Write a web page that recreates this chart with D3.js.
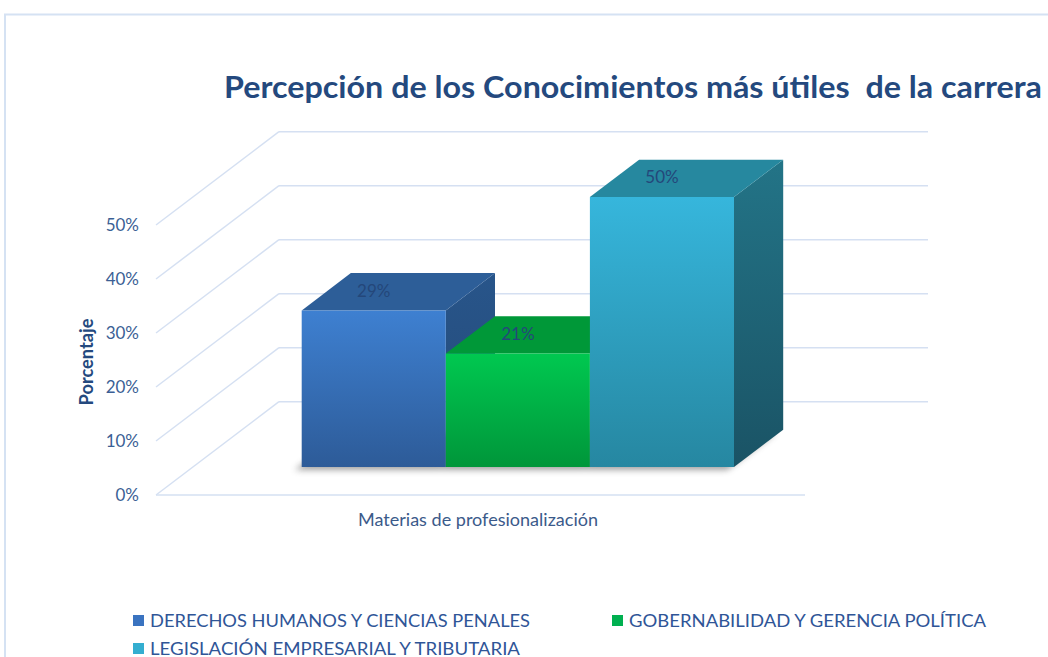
<!DOCTYPE html>
<html lang="es">
<head>
<meta charset="UTF-8">
<title>Percepción de los Conocimientos</title>
<style>
  html, body { margin: 0; padding: 0; background: #fff; }
  svg { display: block; font-family: Lato, "Open Sans", sans-serif; }
  .tick text { fill: #3b5f95; font-size: 17px; }
  .title { fill: #24497e; font-weight: bold; font-size: 30px; }
  .axis-title { fill: #24497e; font-weight: bold; font-size: 18px; }
  .cat-label { fill: #3b5a8a; font-size: 17px; }
  .value-label { fill: #24477a; font-size: 17px; }
  .legend text { fill: #2f5597; font-size: 18px; }
</style>
</head>
<body>
<svg width="1048" height="657"></svg>
<script src="https://cdn.jsdelivr.net/npm/d3@7/dist/d3.min.js"></script>
<script>
  // data
  const categories = ["Materias de profesionalización"];
  const series = [
    "DERECHOS HUMANOS Y CIENCIAS PENALES",
    "GOBERNABILIDAD Y GERENCIA POLÍTICA",
    "LEGISLACIÓN EMPRESARIAL Y TRIBUTARIA"
  ];
  const values = [29, 21, 50];
  const yTicks = [0, 10, 20, 30, 40, 50];
  const tickLabels = ["0%", "10%", "20%", "30%", "40%", "50%"];

  const svg = d3.select("svg");
  const defs = svg.append("defs");

  // fake 3d: front plane + a depth vector
  const floorX0 = 156, floorX1 = 805;
  const depth = {dx: 123, dy: -93.3};
  const barD0 = 0.3, barD1 = 0.7;

  const y = d3.scaleLinear().domain([0, 50]).range([495, 225]);
  const x = d3.scaleBand().domain(series).range([264.8, 697.1]).paddingInner(0);

  const pt = (px, v, d) => [px + d * depth.dx, y(v) + d * depth.dy];

  const styles = [
    {front: ["#3e80d1", "#2d5b98"], top: "#2d5e98", side: ["#28558a", "#244a78"], legend: "#3a73c0", w: 380},
    {front: ["#00c850", "#00963a"], top: "#009838", side: ["#008a33", "#007a2d"], legend: "#00b050", w: 357},
    {front: ["#36b6dc", "#2687a1"], top: "#26889f", side: ["#237487", "#1a5365"], legend: "#34aed0", w: 370}
  ];

  styles.forEach((s, i) => {
    const gf = defs.append("linearGradient").attr("id", "front" + i)
      .attr("x1", 0).attr("y1", 0).attr("x2", 0).attr("y2", 1);
    gf.append("stop").attr("offset", "0%").attr("stop-color", s.front[0]);
    gf.append("stop").attr("offset", "100%").attr("stop-color", s.front[1]);
    const gs = defs.append("linearGradient").attr("id", "side" + i)
      .attr("x1", 0).attr("y1", 0).attr("x2", 0).attr("y2", 1);
    gs.append("stop").attr("offset", "0%").attr("stop-color", s.side[0]);
    gs.append("stop").attr("offset", "100%").attr("stop-color", s.side[1]);
  });

  defs.append("filter").attr("id", "blur")
    .attr("x", "-20%").attr("y", "-20%").attr("width", "140%").attr("height", "140%")
    .append("feGaussianBlur").attr("stdDeviation", 3);

  // chart border
  svg.append("rect")
    .attr("x", 5).attr("y", 14.5).attr("width", 1100).attr("height", 700)
    .attr("fill", "none").attr("stroke", "#d5e2f3").attr("stroke-width", 2);

  svg.append("text").attr("class", "title")
    .attr("x", 224).attr("y", 98)
    .attr("textLength", 818).attr("lengthAdjust", "spacingAndGlyphs")
    .style("white-space", "pre")
    .text("Percepción de los Conocimientos más útiles  de la carrera");

  // walls / grid
  const grid = svg.append("g").attr("stroke", "#d5e0f2").attr("stroke-width", 1.5).attr("fill", "none");
  grid.selectAll(".back").data(yTicks).enter().append("line")
    .attr("x1", d => pt(floorX0, d, 1)[0]).attr("x2", d => pt(floorX1, d, 1)[0])
    .attr("y1", d => pt(floorX0, d, 1)[1]).attr("y2", d => pt(floorX0, d, 1)[1]);
  grid.selectAll(".side").data(yTicks).enter().append("line")
    .attr("x1", d => pt(floorX0, d, 0)[0]).attr("y1", d => pt(floorX0, d, 0)[1])
    .attr("x2", d => pt(floorX0, d, 1)[0]).attr("y2", d => pt(floorX0, d, 1)[1]);
  grid.append("line")
    .attr("x1", floorX0).attr("x2", floorX1).attr("y1", y(0)).attr("y2", y(0));

  // y axis labels
  const yAxis = svg.append("g").attr("class", "tick");
  yAxis.selectAll("text").data(yTicks).enter().append("text")
    .attr("x", 139).attr("y", d => y(d)).attr("dy", "0.35em")
    .attr("text-anchor", "end")
    .text((d, i) => tickLabels[i]);

  svg.append("text").attr("class", "axis-title")
    .attr("transform", "translate(93,362) rotate(-90)")
    .attr("text-anchor", "middle")
    .attr("textLength", 87).attr("lengthAdjust", "spacingAndGlyphs")
    .text("Porcentaje");

  svg.append("text").attr("class", "cat-label")
    .attr("x", 478).attr("y", 526).attr("text-anchor", "middle")
    .attr("textLength", 240).attr("lengthAdjust", "spacingAndGlyphs")
    .text(categories[0]);

  const bars = series.map((s, i) => ({name: s, value: values[i], i: i}));

  // shadow under the bars
  const shadow = svg.append("g").attr("filter", "url(#blur)").attr("opacity", 0.55);
  bars.forEach(b => {
    const xl = x(b.name), xr = x(b.name) + x.bandwidth();
    const p = [pt(xl, 0, barD0), pt(xr, 0, barD0), pt(xr, 0, barD1), pt(xl, 0, barD1)]
      .map(q => [q[0] - 7, q[1] + 3]);
    shadow.append("polygon").attr("points", p.join(" ")).attr("fill", "#555");
  });

  const g = svg.append("g");
  bars.forEach(b => {
    const xl = x(b.name), xr = x(b.name) + x.bandwidth(), v = b.value;
    const side = [pt(xr, 0, barD0), pt(xr, v, barD0), pt(xr, v, barD1), pt(xr, 0, barD1)];
    const top = [pt(xl, v, barD0), pt(xr, v, barD0), pt(xr, v, barD1), pt(xl, v, barD1)];
    const front = [pt(xl, 0, barD0), pt(xr, 0, barD0), pt(xr, v, barD0), pt(xl, v, barD0)];
    g.append("polygon").attr("points", side.join(" ")).attr("fill", "url(#side" + b.i + ")");
    g.append("polygon").attr("points", top.join(" ")).attr("fill", styles[b.i].top);
    g.append("polygon").attr("points", front.join(" ")).attr("fill", "url(#front" + b.i + ")");
  });

  // value labels on the top faces
  svg.append("g").selectAll("text").data(bars).enter().append("text")
    .attr("class", "value-label")
    .attr("text-anchor", "middle")
    .attr("x", d => x(d.name) + x.bandwidth() / 2 + barD0 * depth.dx)
    .attr("y", d => pt(0, d.value, (barD0 + barD1) / 2)[1])
    .attr("dy", "0.3em")
    .text(d => d.value + "%");

  // legend
  const legendPos = [[133, 621], [612, 621], [133, 649]];
  const legend = svg.append("g").attr("class", "legend");
  const items = legend.selectAll("g").data(bars).enter().append("g")
    .attr("transform", d => "translate(" + legendPos[d.i] + ")");
  items.append("rect").attr("x", 0).attr("y", -6).attr("width", 11).attr("height", 11)
    .attr("fill", d => styles[d.i].legend);
  items.append("text").attr("x", 17).attr("y", 0).attr("dy", "0.35em")
    .attr("textLength", d => styles[d.i].w).attr("lengthAdjust", "spacingAndGlyphs")
    .text(d => d.name);
</script>
</body>
</html>
